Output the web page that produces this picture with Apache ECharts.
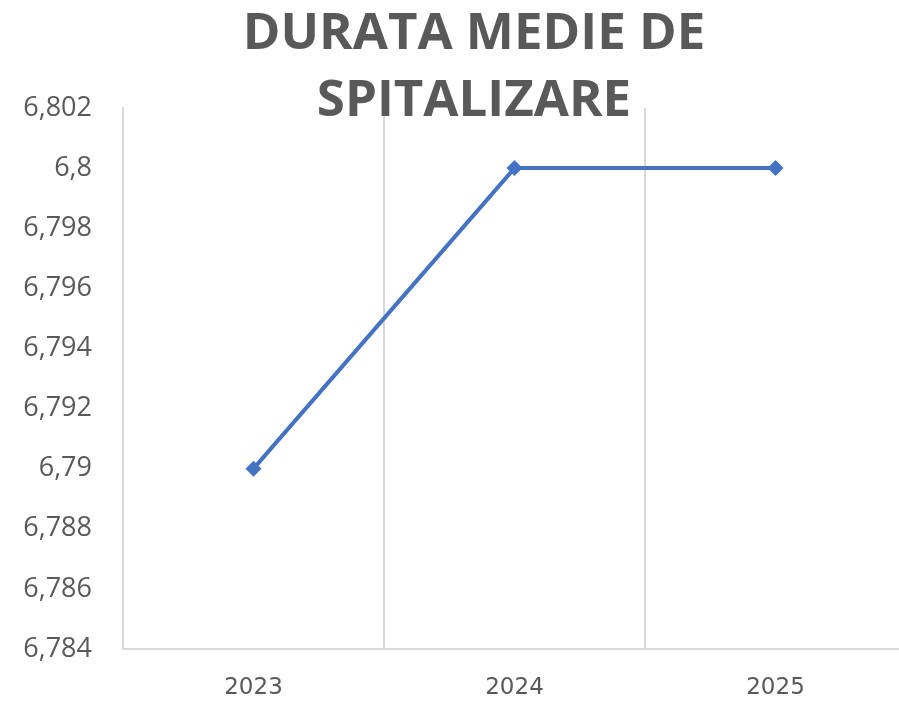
<!DOCTYPE html>
<html>
<head>
<meta charset="utf-8">
<script src="https://cdn.jsdelivr.net/npm/echarts@6/dist/echarts.min.js"></script>
<style>
  html, body { margin: 0; padding: 0; background: #fff; }
  #chart { width: 899px; height: 701px; }
</style>
</head>
<body>
<div id="chart"></div>
<script>
// date
const years = ['2023', '2024', '2025']
const durata = [6.79, 6.8, 6.8]
const yMin = 6.784
const yMax = 6.802
const yStep = 0.002

const chart = echarts.init(document.getElementById('chart'))

// 6.8 -> "6,8" ca in Excel
const fmt = v => String(parseFloat(v.toFixed(3))).replace('.', ',')

const option = {
  animation: false,
  title: {
    text: 'DURATA MEDIE DE\nSPITALIZARE',
    left: 469,
    textAlign: 'center',
    top: -4,
    textStyle: {
      fontFamily: 'Open Sans',
      fontWeight: 'bold',
      fontSize: 51,
      lineHeight: 67,
      color: '#595959'
    }
  },
  // zona graficului iese putin in dreapta, ca in original
  grid: { left: 123, top: 108, width: 783, height: 541, outerBoundsMode: 'none' },
  xAxis: {
    type: 'category',
    data: years,
    boundaryGap: true,
    axisLine: { lineStyle: { color: '#d9d9d9', width: 2 } },
    axisTick: { show: false },
    splitLine: { show: true, lineStyle: { color: '#d9d9d9', width: 2 } },
    axisLabel: {
      margin: 28,
      fontFamily: 'DejaVu Sans',
      fontSize: 23,
      color: '#595959'
    }
  },
  yAxis: {
    type: 'value',
    min: yMin,
    max: yMax,
    interval: yStep,
    axisLine: { show: true, lineStyle: { color: '#d9d9d9', width: 2 } },
    axisTick: { show: false },
    splitLine: { show: false },
    axisLabel: {
      margin: 31,
      fontFamily: 'Open Sans',
      fontSize: 27,
      color: '#595959',
      formatter: fmt
    }
  },
  series: [{
    type: 'line',
    data: durata,
    symbol: 'diamond',
    symbolSize: 16,
    lineStyle: { color: '#4472C4', width: 4 },
    itemStyle: { color: '#4472C4' }
  }]
}

chart.setOption(option)
</script>
</body>
</html>
